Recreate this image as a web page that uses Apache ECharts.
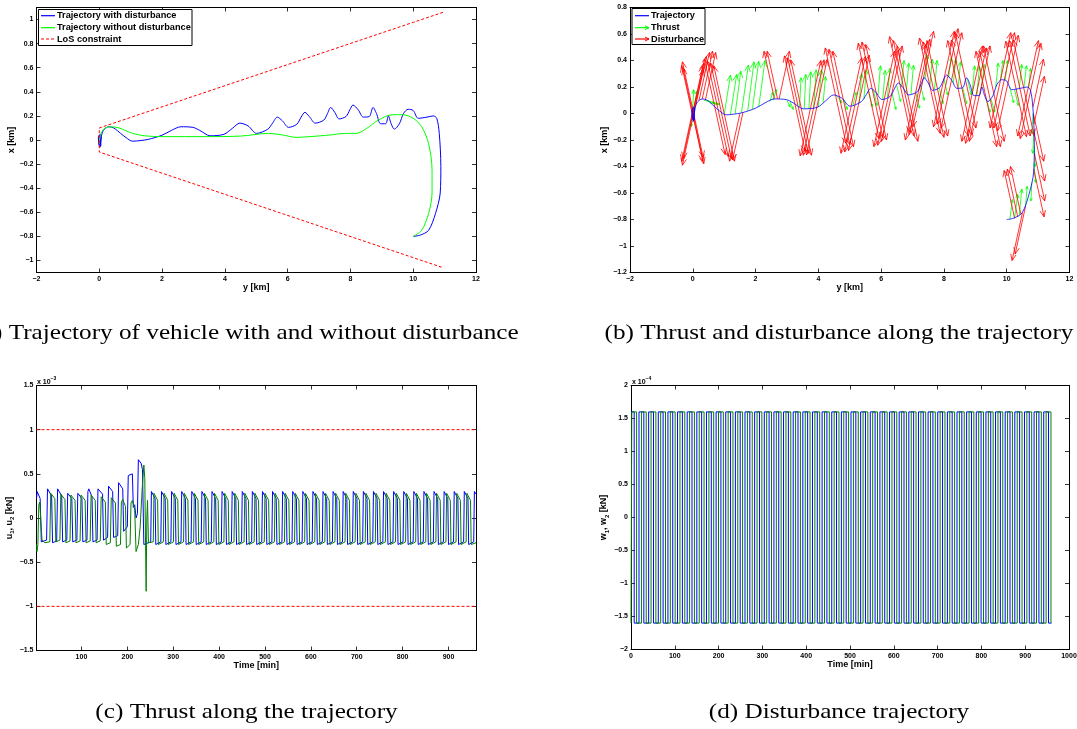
<!DOCTYPE html>
<html><head><meta charset="utf-8">
<script src="https://cdn.jsdelivr.net/npm/echarts@6/dist/echarts.min.js"></script>
<style>html,body{margin:0;padding:0;background:#fff}#c{width:1077px;height:729px}</style>
</head><body><div id="c"></div><script>
// ---------- (a) trajectories [y km, x km] ----------
const trajWithDist = [[0.0,-0.05],[-0.03,0.02],[0.04,0.05],[0.05,-0.05],[-0.02,-0.03],[0.0,0.04],[0.06,0.03],[0.02,-0.06],[0.05,0.01],[0.13,0.08],[0.3,0.11],[0.46,0.1],[0.68,0.055],[0.85,0.02],[1.06,-0.01],[1.3,-0.005],[1.56,0.005],[2.0,0.04],[2.3,0.08],[2.6,0.11],[2.98,0.105],[3.2,0.08],[3.53,0.035],[3.97,0.047],[4.24,0.097],[4.48,0.14],[4.74,0.117],[5.01,0.055],[5.37,0.09],[5.52,0.14],[5.67,0.19],[5.83,0.16],[6.03,0.105],[6.29,0.13],[6.43,0.19],[6.55,0.23],[6.69,0.195],[6.88,0.14],[7.15,0.165],[7.27,0.22],[7.37,0.27],[7.5,0.23],[7.64,0.175],[7.86,0.195],[7.98,0.25],[8.08,0.29],[8.25,0.25],[8.41,0.19],[8.6,0.195],[8.72,0.27],[8.83,0.22],[8.96,0.135],[9.12,0.135],[9.21,0.2],[9.29,0.14],[9.4,0.09],[9.56,0.135],[9.69,0.22],[9.84,0.255],[10.0,0.245],[10.16,0.18],[10.44,0.19],[10.64,0.2],[10.75,0.18],[10.83,0.055],[10.88,-0.22],[10.86,-0.44],[10.71,-0.61],[10.49,-0.75],[10.22,-0.79],[10.0,-0.8]];
const trajNoDist = [[0.0,-0.03],[0.02,0.02],[0.08,0.07],[0.19,0.1],[0.35,0.11],[0.63,0.1],[1.06,0.055],[1.45,0.035],[2.0,0.028],[3.42,0.028],[4.52,0.033],[5.39,0.055],[5.83,0.042],[6.27,0.022],[6.71,0.028],[7.37,0.042],[7.81,0.055],[8.19,0.055],[8.52,0.097],[8.9,0.167],[9.34,0.21],[9.67,0.21],[10.0,0.18],[10.27,0.11],[10.49,-0.03],[10.6,-0.25],[10.6,-0.44],[10.49,-0.61],[10.27,-0.75],[10.0,-0.8]];
const losConstraint = [[10.95,1.06],[0,0.1],[0,-0.1],[10.95,-1.06]];
const ticksAy = [-1,-0.8,-0.6,-0.4,-0.2,0,0.2,0.4,0.6,0.8,1];

// ---------- (b) quiver arrows [baseY, baseX, dY, dX] ----------
const thrustArrows = [
[-0.02,-0.02,0.05,0.2],[0.0,0.0,-0.05,-0.1],[0.03,0.02,0.1,0.15],
[0.35,0.1,0.35,-0.02],[0.45,0.1,0.35,-0.03],[0.55,0.08,0.3,-0.01],
[1.0,-0.01,0.2,0.3],[1.2,-0.005,0.2,0.3],[1.35,0.0,0.18,0.32],[1.55,0.005,0.22,0.36],[1.75,0.02,0.2,0.37],[1.9,0.035,0.2,0.36],[2.1,0.05,0.2,0.35],
[2.45,0.09,0.1,0.07],[2.55,0.1,0.12,0.08],[3.0,0.1,0.1,-0.05],[3.1,0.09,0.1,-0.06],
[3.4,0.05,0.05,0.22],[3.55,0.035,0.05,0.26],[3.7,0.035,0.06,0.28],[3.85,0.04,0.08,0.29],[4.0,0.05,0.1,0.28],[4.15,0.08,0.08,0.2],
[4.6,0.13,0.15,-0.05],[4.8,0.11,0.12,-0.08],[5.1,0.06,0.1,0.1],
[5.3,0.08,0.08,0.22],[5.45,0.11,0.08,0.22],[5.6,0.17,0.12,-0.12],[5.75,0.18,0.12,-0.12],[5.9,0.14,0.08,0.22],[6.05,0.105,0.08,0.22],[6.2,0.12,0.08,0.22],[6.35,0.15,0.12,-0.12],[6.5,0.21,0.12,-0.12],[6.65,0.2,0.08,0.2],[6.8,0.16,0.08,0.22],[6.95,0.145,0.08,0.22],[7.1,0.16,0.12,-0.12],[7.25,0.22,0.12,-0.12],[7.4,0.26,0.08,0.18],[7.55,0.21,0.08,0.2],[7.7,0.18,0.08,0.22],[7.85,0.195,0.12,-0.12],[8.0,0.26,0.12,-0.12],[8.15,0.27,0.08,0.15],[8.3,0.23,0.08,0.18],[8.45,0.19,0.08,0.2],[8.6,0.195,0.12,-0.12],[8.75,0.26,0.12,-0.12],[8.9,0.16,0.08,0.2],[9.05,0.135,0.08,0.22],[9.2,0.19,0.08,0.18],[9.35,0.11,0.12,-0.1],[9.5,0.11,0.12,-0.1],[9.65,0.2,0.08,0.18],[9.8,0.25,0.08,0.15],[9.95,0.25,0.08,0.15],[10.1,0.2,0.12,-0.12],[10.25,0.18,0.12,-0.12],[10.4,0.19,0.08,0.18],[10.55,0.2,0.08,0.16],[10.7,0.19,0.06,0.15],
[10.84,0.0,-0.04,-0.15],[10.87,-0.12,-0.04,-0.18],[10.88,-0.25,0.03,-0.15],[10.87,-0.38,0.05,-0.14],[10.8,-0.52,-0.03,-0.14],
[10.6,-0.7,0.05,0.15],[10.4,-0.77,0.08,0.2],[10.25,-0.79,0.1,0.18],[10.1,-0.8,0.08,0.15]
];
const disturbanceArrows = [
[0.0,0.03,-0.33,0.36],[0.02,-0.02,-0.33,0.36],[-0.02,0.0,-0.33,0.36],
[0.0,0.03,0.33,-0.36],[0.02,-0.02,0.33,-0.36],[-0.01,0.0,0.33,-0.36],
[0.0,-0.03,-0.33,-0.36],[0.02,0.02,-0.33,-0.36],[-0.02,0.0,-0.33,-0.36],
[0.0,-0.03,0.33,0.36],[0.02,0.02,0.33,0.36],[-0.01,0.0,0.33,0.36],
[0.1,0.07,0.33,0.36],[0.2,0.1,0.33,0.36],[0.3,0.11,0.33,0.36],[0.4,0.1,0.33,0.36],
[0.7,0.05,-0.33,0.36],[0.7,0.05,0.33,-0.36],[0.8,0.035,-0.33,0.36],[0.8,0.035,0.33,-0.36],
[0.9,0.02,-0.33,0.36],[0.9,0.02,0.33,-0.36],[1.0,0.0,-0.33,0.36],[1.0,0.0,0.33,-0.36],
[1.5,0.0,-0.33,-0.36],[1.6,0.01,-0.33,-0.36],
[2.6,0.11,-0.33,0.36],[2.7,0.11,-0.33,0.36],[2.75,0.11,0.33,0.36],
[3.25,0.075,-0.33,0.36],[3.25,0.075,0.33,-0.36],[3.35,0.06,-0.33,0.36],[3.35,0.06,0.33,-0.36],[3.45,0.045,-0.33,0.36],[3.45,0.045,0.33,-0.36],
[3.75,0.04,0.33,0.36],[3.75,0.04,-0.33,-0.36],[3.85,0.045,0.33,0.36],[3.85,0.045,-0.33,-0.36],[3.95,0.047,0.33,0.36],[3.95,0.047,-0.33,-0.36],
[4.55,0.135,-0.33,0.36],[4.55,0.135,0.33,-0.36],[4.67,0.125,-0.33,0.36],[4.67,0.125,0.33,-0.36],[4.79,0.11,-0.33,0.36],[4.79,0.11,0.33,-0.36],
[5.05,0.06,0.33,0.36],[5.05,0.06,-0.33,-0.36],[5.17,0.07,0.33,0.36],[5.17,0.07,-0.33,-0.36],[5.29,0.08,0.33,0.36],[5.29,0.08,-0.33,-0.36],
[5.6,0.17,-0.33,0.36],[5.6,0.17,0.33,-0.36],[5.72,0.18,-0.33,0.36],[5.72,0.18,0.33,-0.36],[5.84,0.16,-0.33,0.36],[5.84,0.16,0.33,-0.36],
[6.1,0.11,0.33,0.36],[6.1,0.11,-0.33,-0.36],[6.22,0.12,0.33,0.36],[6.22,0.12,-0.33,-0.36],[6.34,0.15,0.33,0.36],[6.34,0.15,-0.33,-0.36],
[6.6,0.22,-0.33,0.36],[6.6,0.22,0.33,-0.36],[6.72,0.19,-0.33,0.36],[6.72,0.19,0.33,-0.36],[6.84,0.15,-0.33,0.36],[6.84,0.15,0.33,-0.36],
[7.1,0.16,0.33,0.36],[7.1,0.16,-0.33,-0.36],[7.22,0.2,0.33,0.36],[7.22,0.2,-0.33,-0.36],[7.34,0.26,0.33,0.36],[7.34,0.26,-0.33,-0.36],
[7.55,0.21,-0.33,0.36],[7.55,0.21,0.33,-0.36],[7.67,0.18,-0.33,0.36],[7.67,0.18,0.33,-0.36],[7.79,0.19,-0.33,0.36],[7.79,0.19,0.33,-0.36],
[8.0,0.26,0.33,0.36],[8.0,0.26,-0.33,-0.36],[8.12,0.28,0.33,0.36],[8.12,0.28,-0.33,-0.36],[8.24,0.25,0.33,0.36],[8.24,0.25,-0.33,-0.36],
[8.45,0.19,-0.33,0.36],[8.45,0.19,0.33,-0.36],[8.57,0.195,-0.33,0.36],[8.57,0.195,0.33,-0.36],[8.69,0.25,-0.33,0.36],[8.69,0.25,0.33,-0.36],
[8.9,0.15,0.33,0.36],[8.9,0.15,-0.33,-0.36],[9.02,0.135,0.33,0.36],[9.02,0.135,-0.33,-0.36],[9.14,0.15,0.33,0.36],[9.14,0.15,-0.33,-0.36],
[9.35,0.11,-0.33,0.36],[9.35,0.11,0.33,-0.36],[9.47,0.11,-0.33,0.36],[9.47,0.11,0.33,-0.36],[9.59,0.15,-0.33,0.36],[9.59,0.15,0.33,-0.36],
[9.8,0.25,0.33,0.36],[9.8,0.25,-0.33,-0.36],[9.92,0.25,0.33,0.36],[9.92,0.25,-0.33,-0.36],[10.04,0.23,0.33,0.36],[10.04,0.23,-0.33,-0.36],
[10.3,0.185,-0.33,0.36],[10.3,0.185,0.33,-0.36],[10.42,0.19,-0.33,0.36],[10.42,0.19,0.33,-0.36],[10.54,0.195,-0.33,0.36],[10.54,0.195,0.33,-0.36],
[10.68,0.19,0.33,0.36],[10.68,0.19,-0.33,-0.36],[10.76,0.17,0.33,0.36],[10.76,0.17,-0.33,-0.36],
[10.84,0.05,0.33,0.36],[10.87,-0.08,0.33,0.36],
[10.85,0.0,0.33,-0.36],[10.88,-0.15,0.33,-0.36],[10.88,-0.3,0.33,-0.36],[10.86,-0.42,0.33,-0.36],
[10.25,-0.79,-0.33,0.36],[10.35,-0.78,-0.33,0.36],[10.45,-0.76,-0.33,0.36],
[10.5,-0.75,-0.33,-0.36],[10.6,-0.7,-0.33,-0.36]
];

// ---------- (c) thrust [time min, value x1e-3] ----------
const u1 = [[2,0.22],[3.5,0.3],[10,0.22],[12.5,-0.27],
[24,-0.25],[26,0.33],[28,0.35],[35,0.25],[37,-0.28],
[46,-0.26],[48,0.33],[50,0.35],[57,0.25],[59,-0.27],
[68,-0.25],[70,0.28],[72,0.3],[79,0.22],[81,-0.27],
[90,-0.25],[92,0.28],[94,0.3],[101,0.22],[103,-0.27],
[112,-0.25],[114,0.3],[116,0.33],[123,0.24],[125,-0.27],
[134,-0.25],[136,0.33],[139,0.35],[146,0.27],[148,-0.25],
[157,-0.22],[159,0.36],[161,0.38],[168,0.3],[170,-0.22],
[179,-0.2],[181,0.4],[184,0.42],[190,0.33],[192,-0.15],
[200,-0.1],[202,0.48],[205,0.5],[211,0.5],[213,0.12],[216,0.15],[219,0.0],[222,0.05],
[224,0.66],[226,0.68],[230,0.62],[233,0.55],[236,-0.3],
[251,-0.27],[252.5,0.3],[260.5,0.22],[262,-0.3],
[273,-0.27],[274.5,0.3],[282.5,0.22],[284,-0.3],
[295,-0.27],[296.5,0.3],[304.5,0.22],[306,-0.3],
[317,-0.27],[318.5,0.3],[326.5,0.22],[328,-0.3],
[339,-0.27],[340.5,0.3],[348.5,0.22],[350,-0.3],
[361,-0.27],[362.5,0.3],[370.5,0.22],[372,-0.3],
[383,-0.27],[384.5,0.3],[392.5,0.22],[394,-0.3],
[405,-0.27],[406.5,0.3],[414.5,0.22],[416,-0.3],
[427,-0.27],[428.5,0.3],[436.5,0.22],[438,-0.3],
[449,-0.27],[450.5,0.3],[458.5,0.22],[460,-0.3],
[471,-0.27],[472.5,0.3],[480.5,0.22],[482,-0.3],
[493,-0.27],[494.5,0.3],[502.5,0.22],[504,-0.3],
[515,-0.27],[516.5,0.3],[524.5,0.22],[526,-0.3],
[537,-0.27],[538.5,0.3],[546.5,0.22],[548,-0.3],
[559,-0.27],[560.5,0.3],[568.5,0.22],[570,-0.3],
[581,-0.27],[582.5,0.3],[590.5,0.22],[592,-0.3],
[603,-0.27],[604.5,0.3],[612.5,0.22],[614,-0.3],
[625,-0.27],[626.5,0.3],[634.5,0.22],[636,-0.3],
[647,-0.27],[648.5,0.3],[656.5,0.22],[658,-0.3],
[669,-0.27],[670.5,0.3],[678.5,0.22],[680,-0.3],
[691,-0.27],[692.5,0.3],[700.5,0.22],[702,-0.3],
[713,-0.27],[714.5,0.3],[722.5,0.22],[724,-0.3],
[735,-0.27],[736.5,0.3],[744.5,0.22],[746,-0.3],
[757,-0.27],[758.5,0.3],[766.5,0.22],[768,-0.3],
[779,-0.27],[780.5,0.3],[788.5,0.22],[790,-0.3],
[801,-0.27],[802.5,0.3],[810.5,0.22],[812,-0.3],
[823,-0.27],[824.5,0.3],[832.5,0.22],[834,-0.3],
[845,-0.27],[846.5,0.3],[854.5,0.22],[856,-0.3],
[867,-0.27],[868.5,0.3],[876.5,0.22],[878,-0.3],
[889,-0.27],[890.5,0.3],[898.5,0.22],[900,-0.3],
[911,-0.27],[912.5,0.3],[920.5,0.22],[922,-0.3],
[933,-0.27],[934.5,0.3],[942.5,0.22],[944,-0.3],
[955,-0.27],[956.5,0.3],[960,0.27]];
const u2 = [[2,-0.3],[3,-0.38],[5,-0.3],[7,0.15],[9,0.18],[12,0.16],[14,-0.25],[20,-0.28],
[31,-0.27],[33,0.28],[35,0.3],[42,0.22],[44,-0.27],
[53,-0.25],[55,0.27],[57,0.29],[64,0.21],[66,-0.28],
[75,-0.26],[77,0.26],[79,0.28],[86,0.2],[88,-0.28],
[97,-0.26],[99,0.26],[101,0.28],[108,0.2],[110,-0.28],
[119,-0.26],[121,0.26],[123,0.28],[130,0.2],[132,-0.28],
[141,-0.26],[143,0.24],[146,0.26],[152,0.18],[154,-0.3],
[163,-0.28],[165,0.23],[168,0.25],[174,0.17],[176,-0.32],
[185,-0.3],[187,0.18],[190,0.21],[196,0.13],[198,-0.34],
[206,-0.3],[208,0.17],[211,0.2],[216,0.1],[219,-0.38],
[224,-0.3],[228,-0.1],[232,0.3],[236,0.6],[238,0.45],[241,-0.83],[242.5,0.0],[244,0.2],[246,-0.28],
[256.5,-0.27],[258,0.28],[266,0.2],[267.5,-0.3],
[278.5,-0.27],[280,0.28],[288,0.2],[289.5,-0.3],
[300.5,-0.27],[302,0.28],[310,0.2],[311.5,-0.3],
[322.5,-0.27],[324,0.28],[332,0.2],[333.5,-0.3],
[344.5,-0.27],[346,0.28],[354,0.2],[355.5,-0.3],
[366.5,-0.27],[368,0.28],[376,0.2],[377.5,-0.3],
[388.5,-0.27],[390,0.28],[398,0.2],[399.5,-0.3],
[410.5,-0.27],[412,0.28],[420,0.2],[421.5,-0.3],
[432.5,-0.27],[434,0.28],[442,0.2],[443.5,-0.3],
[454.5,-0.27],[456,0.28],[464,0.2],[465.5,-0.3],
[476.5,-0.27],[478,0.28],[486,0.2],[487.5,-0.3],
[498.5,-0.27],[500,0.28],[508,0.2],[509.5,-0.3],
[520.5,-0.27],[522,0.28],[530,0.2],[531.5,-0.3],
[542.5,-0.27],[544,0.28],[552,0.2],[553.5,-0.3],
[564.5,-0.27],[566,0.28],[574,0.2],[575.5,-0.3],
[586.5,-0.27],[588,0.28],[596,0.2],[597.5,-0.3],
[608.5,-0.27],[610,0.28],[618,0.2],[619.5,-0.3],
[630.5,-0.27],[632,0.28],[640,0.2],[641.5,-0.3],
[652.5,-0.27],[654,0.28],[662,0.2],[663.5,-0.3],
[674.5,-0.27],[676,0.28],[684,0.2],[685.5,-0.3],
[696.5,-0.27],[698,0.28],[706,0.2],[707.5,-0.3],
[718.5,-0.27],[720,0.28],[728,0.2],[729.5,-0.3],
[740.5,-0.27],[742,0.28],[750,0.2],[751.5,-0.3],
[762.5,-0.27],[764,0.28],[772,0.2],[773.5,-0.3],
[784.5,-0.27],[786,0.28],[794,0.2],[795.5,-0.3],
[806.5,-0.27],[808,0.28],[816,0.2],[817.5,-0.3],
[828.5,-0.27],[830,0.28],[838,0.2],[839.5,-0.3],
[850.5,-0.27],[852,0.28],[860,0.2],[861.5,-0.3],
[872.5,-0.27],[874,0.28],[882,0.2],[883.5,-0.3],
[894.5,-0.27],[896,0.28],[904,0.2],[905.5,-0.3],
[916.5,-0.27],[918,0.28],[926,0.2],[927.5,-0.3],
[938.5,-0.27],[940,0.28],[948,0.2],[949.5,-0.3],
[960,-0.28]];
const thrustLimit = [1, -1];
const ticksCx = [100,200,300,400,500,600,700,800,900];

// ---------- (d) disturbance square waves (x1e-4) ----------
const wLevel = 1.6;
const w1Start = 1;   // w1 begins at +level
const w2Start = -1;  // w2 begins at -level
const w1Switch = [7.3,18.3,29.3,40.3,51.3,62.3,73.3,84.3,95.3,106.3,117.3,128.3,139.3,150.3,161.3,172.3,183.3,194.3,205.3,216.3,227.3,238.3,249.3,260.3,271.3,282.3,293.3,304.3,315.3,326.3,337.3,348.3,359.3,370.3,381.3,392.3,403.3,414.3,425.3,436.3,447.3,458.3,469.3,480.3,491.3,502.3,513.3,524.3,535.3,546.3,557.3,568.3,579.3,590.3,601.3,612.3,623.3,634.3,645.3,656.3,667.3,678.3,689.3,700.3,711.3,722.3,733.3,744.3,755.3,766.3,777.3,788.3,799.3,810.3,821.3,832.3,843.3,854.3,865.3,876.3,887.3,898.3,909.3,920.3,931.3,942.3,953.3];
const w2Switch = [1.8,12.8,23.8,34.8,45.8,56.8,67.8,78.8,89.8,100.8,111.8,122.8,133.8,144.8,155.8,166.8,177.8,188.8,199.8,210.8,221.8,232.8,243.8,254.8,265.8,276.8,287.8,298.8,309.8,320.8,331.8,342.8,353.8,364.8,375.8,386.8,397.8,408.8,419.8,430.8,441.8,452.8,463.8,474.8,485.8,496.8,507.8,518.8,529.8,540.8,551.8,562.8,573.8,584.8,595.8,606.8,617.8,628.8,639.8,650.8,661.8,672.8,683.8,694.8,705.8,716.8,727.8,738.8,749.8,760.8,771.8,782.8,793.8,804.8,815.8,826.8,837.8,848.8,859.8,870.8,881.8,892.8,903.8,914.8,925.8,936.8,947.8,958.8];
const wEnd = 960;

// ---------- helpers ----------
function squareWave(sw, startSign, level, tEnd) {
  const pts = [[0, startSign * level]];
  let s = startSign;
  sw.forEach(t => { pts.push([t, s * level]); s = -s; pts.push([t, s * level]); });
  pts.push([tEnd, s * level]);
  return pts;
}
const SANS = 'Liberation Sans, Arial, Helvetica, sans-serif';
const minus = v => String(v).replace('-', '\u2212');
function tickLabel() { return {show: true, margin: 3, formatter: minus, fontFamily: SANS, fontWeight: 'bold', fontSize: 7, color: '#000'}; }
function axisLineS() { return {show: true, onZero: false, lineStyle: {color: '#000', width: 1}}; }
function tickS(custom) { const t = {show: true, inside: true, length: 4, lineStyle: {color: '#000', width: 0.8}}; if (custom) t.customValues = custom; return t; }
const nameStyle = () => ({fontFamily: SANS, fontWeight: 'bold', fontSize: 9, color: '#000'});

const xAxes = [], yAxes = [];
function addAxes(gi, X, Y) {
  const xl = {gridIndex: gi, type: 'value', min: X.min, max: X.max, splitLine: {show: false}, axisLine: axisLineS(),
    axisTick: tickS(X.ticks), position: 'bottom', axisLabel: tickLabel(), name: X.name, nameLocation: 'middle', nameGap: X.gap, nameTextStyle: nameStyle()};
  if (X.interval) xl.interval = X.interval;
  if (X.ticks) xl.axisLabel.customValues = X.ticks;
  const xt = {gridIndex: gi, type: 'value', min: X.min, max: X.max, splitLine: {show: false}, axisLine: axisLineS(),
    axisTick: tickS(X.ticks), position: 'top', axisLabel: {show: false}};
  if (X.interval) xt.interval = X.interval;
  xAxes.push(xl, xt);
  const yl = {gridIndex: gi, type: 'value', min: Y.min, max: Y.max, splitLine: {show: false}, axisLine: axisLineS(),
    axisTick: tickS(Y.ticks), position: 'left', axisLabel: tickLabel(), name: Y.name, nameLocation: 'middle', nameGap: Y.gap, nameRotate: 90,
    nameTextStyle: Object.assign(nameStyle(), Y.rich ? {rich: Y.rich} : {})};
  if (Y.interval) yl.interval = Y.interval;
  if (Y.ticks) yl.axisLabel.customValues = Y.ticks;
  const yr = {gridIndex: gi, type: 'value', min: Y.min, max: Y.max, splitLine: {show: false}, axisLine: axisLineS(),
    axisTick: tickS(Y.ticks), position: 'right', axisLabel: {show: false}};
  if (Y.interval) yr.interval = Y.interval;
  yAxes.push(yl, yr);
}
const subRich = {
  a: {fontFamily: SANS, fontWeight: 'bold', fontSize: 9, color: '#000', lineHeight: 13, verticalAlign: 'middle'},
  s: {fontFamily: SANS, fontWeight: 'bold', fontSize: 6, color: '#000', lineHeight: 6, verticalAlign: 'bottom'}
};
addAxes(0, {min: -2, max: 12, interval: 2, name: 'y [km]', gap: 8}, {min: -1.1, max: 1.1, ticks: ticksAy, name: 'x [km]', gap: 17});
addAxes(1, {min: -2, max: 12, interval: 2, name: 'y [km]', gap: 8}, {min: -1.2, max: 0.8, interval: 0.2, name: 'x [km]', gap: 18});
addAxes(2, {min: 2, max: 960, ticks: ticksCx, name: 'Time [min]', gap: 8}, {min: -1.5, max: 1.5, interval: 0.5, name: '{a|u}{s|1}{a|, u}{s|2}{a| [kN]}', gap: 19, rich: subRich});
addAxes(3, {min: 0, max: 1000, interval: 100, name: 'Time [min]', gap: 8}, {min: -2, max: 2, interval: 0.5, name: '{a|w}{s|1}{a|, w}{s|2}{a| [kN]}', gap: 20, rich: subRich});

function arrowSeries(name, data, color) {
  return {
    type: 'custom', name, xAxisIndex: 2, yAxisIndex: 2, data, silent: true, clip: true,
    encode: {x: 0, y: 1},
    renderItem: (params, api) => {
      const y0 = api.value(0), x0 = api.value(1), dy = api.value(2), dx = api.value(3);
      const p0 = api.coord([y0, x0]), p1 = api.coord([y0 + dy, x0 + dx]);
      const ang = Math.atan2(p1[1] - p0[1], p1[0] - p0[0]);
      const len = Math.hypot(p1[0] - p0[0], p1[1] - p0[1]);
      const h = Math.min(7, Math.max(3, len * 0.17));
      const a1 = ang + Math.PI - 0.4, a2 = ang + Math.PI + 0.4;
      return {type: 'group', children: [
        {type: 'line', shape: {x1: p0[0], y1: p0[1], x2: p1[0], y2: p1[1]}, style: {stroke: color, lineWidth: 0.8}},
        {type: 'polyline', shape: {points: [[p1[0] + h * Math.cos(a1), p1[1] + h * Math.sin(a1)], p1, [p1[0] + h * Math.cos(a2), p1[1] + h * Math.sin(a2)]]}, style: {stroke: color, fill: null, lineWidth: 0.8}}
      ]};
    }
  };
}
function lineS(name, data, xi, color, width, extra) {
  return Object.assign({type: 'line', name, data, xAxisIndex: xi, yAxisIndex: xi, showSymbol: false, symbol: 'none', silent: true, clip: true,
    lineStyle: {color, width}, itemStyle: {color}}, extra || {});
}

const series = [
  lineS('Trajectory with disturbance', trajWithDist, 0, '#0000ff', 1, {smooth: 0.3}),
  lineS('Trajectory without disturbance', trajNoDist, 0, '#00ff00', 1, {smooth: 0.3}),
  lineS('LoS constraint', losConstraint, 0, '#ff0000', 1, {lineStyle: {color: '#ff0000', width: 1, type: [3, 2]}}),
  lineS('Trajectory', trajWithDist, 2, '#0000ff', 0.8, {smooth: 0.3}),
  arrowSeries('Thrust', thrustArrows, '#00ff00'),
  arrowSeries('Disturbance', disturbanceArrows, '#ff0000'),
  lineS('u1', u1, 4, '#0000ff', 1),
  lineS('u2', u2, 4, '#008000', 1),
  lineS('limit+', [[2, thrustLimit[0]], [960, thrustLimit[0]]], 4, '#ff0000', 1, {lineStyle: {color: '#ff0000', width: 1, type: [3, 2]}}),
  lineS('limit-', [[2, thrustLimit[1]], [960, thrustLimit[1]]], 4, '#ff0000', 1, {lineStyle: {color: '#ff0000', width: 1, type: [3, 2]}}),
  lineS('w1', squareWave(w1Switch, w1Start, wLevel, wEnd), 6, '#0000ff', 1),
  lineS('w2', squareWave(w2Switch, w2Start, wLevel, wEnd), 6, '#008000', 1)
];

const LEG_FONT = {fontFamily: SANS, fontWeight: 'bold', fontSize: 9.2, fill: '#000'};
function legText(x, y, t) { return {type: 'text', x, y, style: Object.assign({text: t, textAlign: 'left', textVerticalAlign: 'middle', verticalAlign: 'middle'}, LEG_FONT), z: 100}; }
function legLine(x1, x2, y, color, dash) { return {type: 'line', shape: {x1, y1: y, x2, y2: y}, style: {stroke: color, lineWidth: 1.2, lineDash: dash || null}, z: 100}; }
function legArrow(x1, x2, y, color) { return {type: 'polyline', shape: {points: [[x2 - 4, y - 2], [x2, y], [x2 - 4, y + 2]]}, style: {stroke: color, fill: null, lineWidth: 1}, z: 100}; }
const CAP = {fontFamily: 'Liberation Serif, Times New Roman, serif', fontSize: 21, fill: '#000', textAlign: 'center', textVerticalAlign: 'middle', verticalAlign: 'middle'};
function caption(x, y, t) { return {type: 'text', x, y, scaleX: 1.2, style: Object.assign({text: t}, CAP), z: 100}; }
const expRich = {
  a: {fontFamily: SANS, fontWeight: 'bold', fontSize: 7, fill: '#000', verticalAlign: 'bottom', lineHeight: 10},
  s: {fontFamily: SANS, fontWeight: 'bold', fontSize: 5, fill: '#000', verticalAlign: 'top', lineHeight: 10}
};
const graphic = [
  {type: 'rect', shape: {x: 38.5, y: 9.5, width: 153.5, height: 36}, style: {fill: '#fff', stroke: '#000', lineWidth: 1}, z: 99},
  legLine(41, 55, 15.7, '#0000ff'), legText(57, 15.7, 'Trajectory with disturbance'),
  legLine(41, 55, 27.7, '#00ff00'), legText(57, 27.7, 'Trajectory without disturbance'),
  legLine(41, 55, 39, '#ff0000', [3, 2]), legText(57, 39, 'LoS constraint'),
  {type: 'rect', shape: {x: 632, y: 8.5, width: 73, height: 36}, style: {fill: '#fff', stroke: '#000', lineWidth: 1}, z: 99},
  legLine(635, 649, 15.7, '#0000ff'), legText(651, 15.7, 'Trajectory'),
  legLine(635, 649, 27.7, '#00ff00'), legArrow(635, 649, 27.7, '#00ff00'), legText(651, 27.7, 'Thrust'),
  legLine(635, 649, 39, '#ff0000'), legArrow(635, 649, 39, '#ff0000'), legText(651, 39, 'Disturbance'),
  {type: 'text', x: 37, y: 376, style: {text: '{a|x 10}{s|\u22123}', rich: expRich, fontFamily: SANS, fontSize: 7, fontWeight: 'bold', fill: '#000'}, z: 100},
  {type: 'text', x: 632, y: 376, style: {text: '{a|x 10}{s|\u22124}', rich: expRich, fontFamily: SANS, fontSize: 7, fontWeight: 'bold', fill: '#000'}, z: 100},
  caption(246.5, 333, '(a) Trajectory of vehicle with and without disturbance'),
  caption(839, 333, '(b) Thrust and disturbance along the trajectory'),
  caption(246.5, 712, '(c) Thrust along the trajectory'),
  caption(839, 712, '(d) Disturbance trajectory')
];

const chart = echarts.init(document.getElementById('c'), null, {renderer: 'canvas', width: 1077, height: 729});
chart.setOption({
  animation: false,
  backgroundColor: '#fff',
  grid: [
    {left: 36.5, top: 7.5, width: 439.5, height: 265, containLabel: false, outerBoundsMode: 'none'},
    {left: 630, top: 7.5, width: 439.5, height: 265, containLabel: false, outerBoundsMode: 'none'},
    {left: 36.5, top: 385.5, width: 439.5, height: 265, containLabel: false, outerBoundsMode: 'none'},
    {left: 631, top: 385.5, width: 438, height: 264, containLabel: false, outerBoundsMode: 'none'}
  ],
  xAxis: xAxes, yAxis: yAxes, series, graphic
});
</script></body></html>
